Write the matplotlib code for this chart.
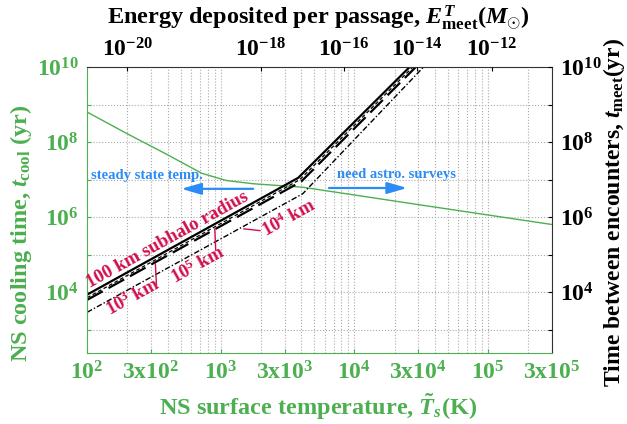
import matplotlib
matplotlib.use("Agg")
import matplotlib.pyplot as plt
from matplotlib.ticker import LogLocator, NullFormatter, FixedLocator, FixedFormatter
import numpy as np

plt.rcParams['font.family'] = ['Liberation Serif', 'DejaVu Serif']
plt.rcParams['font.weight'] = 'bold'
plt.rcParams['axes.labelweight'] = 'bold'
plt.rcParams['mathtext.fontset'] = 'custom'
plt.rcParams['mathtext.rm'] = 'Liberation Serif:bold'
plt.rcParams['mathtext.bf'] = 'Liberation Serif:bold'
plt.rcParams['mathtext.it'] = 'Liberation Serif:italic:bold'

GREEN = '#4caf50'
RED = '#d0104c'
BLUE = '#2b8cf5'

# NS cooling time vs surface temperature (green)
cool_T = [1e2, 2e2, 4e2, 7.2e2, 1.1e3, 1.74e3, 4.1e3, 3.5e4, 3.2e5]
cool_t = [6.3e8, 1.66e8, 4.6e7, 1.48e7, 9.5e6, 7.8e6, 6.3e6, 2.0e6, 6.2e5]

# time between encounters (black), one per subhalo radius
meet_T = {
    '100 km': [1e2, 3.8e3, 3.6e4],
    '1e3 km': [1e2, 4.0e3, 4.0e4],
    '1e5 km': [1e2, 3.9e3, 3.8e4],
    '1e4 km': [1e2, 4.1e3, 4.5e4],
}
meet_t = {
    '100 km': [8.7e3, 1.12e7, 3.2e10],
    '1e3 km': [6.3e3, 8.9e6, 3.2e10],
    '1e5 km': [7.2e3, 1.0e7, 3.2e10],
    '1e4 km': [2.95e3, 4.2e6, 3.2e10],
}
meet_style = {
    '100 km': dict(ls='-', lw=1.6),
    '1e3 km': dict(ls=(0, (8, 3)), lw=1.6),
    '1e5 km': dict(ls=(0, (3, 2)), lw=0.9),
    '1e4 km': dict(ls=(0, (4, 1.5, 1, 1.5)), lw=1.0),
}

x_ticks = [1e2, 3e2, 1e3, 3e3, 1e4, 3e4, 1e5, 3e5]
x_labels = [r'$\mathrm{10^{2}}$', r'$\mathrm{3x10^{2}}$', r'$\mathrm{10^{3}}$', r'$\mathrm{3x10^{3}}$',
            r'$\mathrm{10^{4}}$', r'$\mathrm{3x10^{4}}$', r'$\mathrm{10^{5}}$', r'$\mathrm{3x10^{5}}$']
y_ticks = [1e3, 1e4, 1e5, 1e6, 1e7, 1e8, 1e9, 1e10]
y_labels = ['', r'$\mathrm{10^{4}}$', '', r'$\mathrm{10^{6}}$', '', r'$\mathrm{10^{8}}$', '', r'$\mathrm{10^{10}}$']
# temperatures at which the deposited energy hits each decade (top axis)
energy_T = [2.0e2, 2.0e3, 8.3e3, 2.95e4, 1.07e5]
energy_labels = [r'$\mathrm{10^{-20}}$', r'$\mathrm{10^{-18}}$', r'$\mathrm{10^{-16}}$',
                 r'$\mathrm{10^{-14}}$', r'$\mathrm{10^{-12}}$']

fig = plt.figure(figsize=(6.27, 4.24), dpi=100)
ax = fig.add_axes([0.139, 0.167, 0.741, 0.675])
xlim = (1e2, 3e5)
ylim = (2.4e2, 1e10)

ax.set_xscale('log')
ax.set_yscale('log')
ax.set_xlim(*xlim)
ax.set_ylim(*ylim)
ax.plot(cool_T, cool_t, color=GREEN, lw=1.0)
for k in meet_T:
    ax.plot(meet_T[k], meet_t[k], color='black', **meet_style[k])

ax.xaxis.set_major_locator(FixedLocator(x_ticks))
ax.xaxis.set_major_formatter(FixedFormatter(x_labels))
ax.xaxis.set_minor_locator(LogLocator(base=10, subs=np.arange(2, 10)))
ax.xaxis.set_minor_formatter(NullFormatter())
ax.yaxis.set_major_locator(FixedLocator(y_ticks))
ax.yaxis.set_major_formatter(FixedFormatter(y_labels))
ax.yaxis.set_minor_locator(FixedLocator([]))
ax.grid(True, which='both', ls=':', color='#aaaaaa', lw=0.8)
ax.tick_params(which='both', direction='in', colors=GREEN, labelsize=17, length=3, pad=6)
ax.tick_params(which='minor', length=0)
ax.spines['left'].set_color(GREEN)
ax.spines['bottom'].set_color(GREEN)
ax.spines['top'].set_color('#333333')
ax.spines['right'].set_color('#333333')

axr = ax.twinx()
axr.set_yscale('log')
axr.set_ylim(*ylim)
axr.yaxis.set_major_locator(FixedLocator(y_ticks))
axr.yaxis.set_major_formatter(FixedFormatter(y_labels))
axr.yaxis.set_minor_locator(FixedLocator([]))
axr.tick_params(direction='in', labelsize=17, length=3, pad=6)

axt = ax.twiny()
axt.set_xscale('log')
axt.set_xlim(*xlim)
axt.xaxis.set_major_locator(FixedLocator(energy_T))
axt.xaxis.set_major_formatter(FixedFormatter(energy_labels))
axt.xaxis.set_minor_locator(FixedLocator([]))
axt.tick_params(direction='in', labelsize=17, length=3, pad=4)
for a in (axr, axt):
    for s in a.spines.values():
        s.set_visible(False)

# axis titles
fig.text(0.507, 0.040, r'NS surface temperature, $\tilde{T}_s\mathrm{(K)}$', color=GREEN,
         fontsize=17.5, ha='center', va='center')
fig.text(0.034, 0.45, r'NS cooling time, $t_{\mathrm{cool}}$ (yr)', color=GREEN,
         fontsize=17.5, rotation=90, ha='center', va='center')
fig.text(0.979, 0.5, r'Time between encounters, $t_{\mathrm{meet}}$(yr)',
         fontsize=17, rotation=90, ha='center', va='center')
fig.text(0.507, 0.958, r'Energy deposited per passage, $E^{T}_{\mathrm{meet}}(M_{\odot})$',
         fontsize=17.5, ha='center', va='center')

# labels for the subhalo radii
rot = 29
ax.text(400, 2.5e5, '100 km subhalo radius', color=RED, fontsize=13.5, rotation=rot,
        ha='center', va='center', rotation_mode='anchor')
ax.text(218, 7.3e3, r'$\mathrm{10^{3}}$ km', color=RED, fontsize=13.5, rotation=rot,
        ha='center', va='center', rotation_mode='anchor')
ax.text(671, 5.4e4, r'$\mathrm{10^{5}}$ km', color=RED, fontsize=13.5, rotation=rot,
        ha='center', va='center', rotation_mode='anchor')
ax.text(3245, 9.6e5, r'$\mathrm{10^{4}}$ km', color=RED, fontsize=13.5, rotation=rot,
        ha='center', va='center', rotation_mode='anchor')
for p0, p1 in [((324, 5.8e4), (330, 1.6e4)), ((902, 4.9e5), (916, 1.35e5)),
               ((1490, 4.9e5), (1963, 4.4e5))]:
    ax.plot([p0[0], p1[0]], [p0[1], p1[1]], color=RED, lw=1.0)

# regime arrows
ax.text(282, 1.26e7, 'steady state temp.', color=BLUE, fontsize=10.5, ha='center', va='center')
ax.annotate('', xy=(483, 5.7e6), xytext=(1833, 5.7e6),
            arrowprops=dict(arrowstyle='-|>,head_width=0.35,head_length=1.2', color=BLUE, lw=1.6))
ax.text(2.07e4, 1.35e7, 'need astro. surveys', color=BLUE, fontsize=10.5, ha='center', va='center')
ax.annotate('', xy=(2.6e4, 6.0e6), xytext=(6150, 6.0e6),
            arrowprops=dict(arrowstyle='-|>,head_width=0.35,head_length=1.2', color=BLUE, lw=1.6))

fig.savefig('out.png', dpi=100)
